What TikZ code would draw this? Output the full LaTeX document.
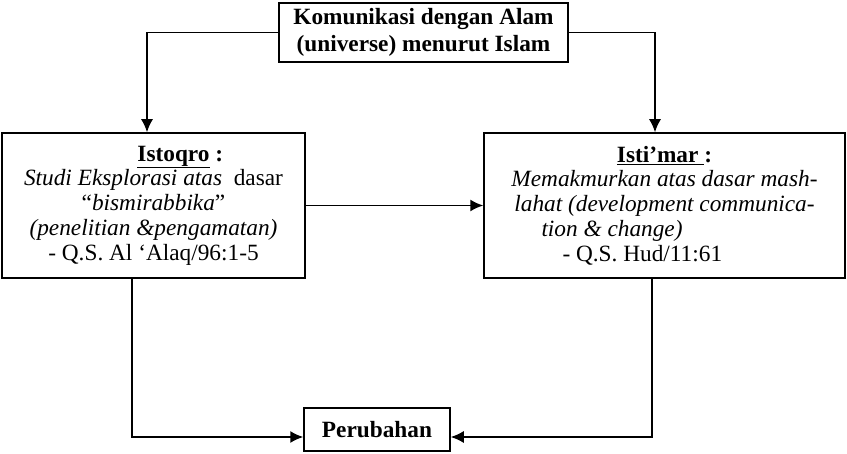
\documentclass[tikz,border=0pt]{standalone}
\usepackage{fontspec}
\setmainfont{Liberation Serif}
\usepackage{tikz}
\usetikzlibrary{arrows.meta}

\begin{document}
\begin{tikzpicture}[x=1pt, y=-1pt,
    every node/.style={font=\fontsize{23.3}{24.8}\selectfont},
    box/.style={draw, line width=1.5pt, inner sep=0pt, align=center},
    link/.style={line width=1.5pt, -{Latex[length=13pt, width=12pt]}}]
        \useasboundingbox (0,0) rectangle (847,454);

        % boxes
        \node[box, minimum width=289, minimum height=59, font=\fontsize{23.3}{26.5}\selectfont\bfseries] (alam) at (423.5,32.5) {Komunikasi dengan Alam\\(universe) menurut Islam};
        \node[box, minimum width=303, minimum height=145] (istoqro) at (153.5,205.5) {\makebox[280pt][l]{\hspace*{124pt}\textbf{\underline{Istoqro} :}}\\\textit{Studi Eksplorasi atas}\ \ dasar\\``\textit{bismirabbika}''\\\textit{(penelitian \&pengamatan)}\\- Q.S. Al `Alaq/96:1-5};
        \node[box, minimum width=361, minimum height=145] (istimar) at (664.5,205.5) {\textbf{\underline{Isti'mar }:}\\\textit{Memakmurkan atas dasar mash-}\\\textit{lahat (development communica-}\\\makebox[340pt][l]{\hspace*{47pt}\textit{tion \& change)}}\\\makebox[340pt][l]{\hspace*{68pt}- Q.S. Hud/11:61}};
        \node[box, minimum width=146, minimum height=43, font=\fontsize{23.3}{24.8}\selectfont\bfseries] (perubahan) at (377,429.5) {Perubahan};

        % arrows
        \draw[link] (alam.west) -| ([xshift=-6.5pt]istoqro.north);
        \draw[link] (alam.east) -| ([xshift=-9.5pt]istimar.north);
        \draw[link] (istoqro) -- (istimar);
        \draw[link] ([xshift=-21.5pt]istoqro.south) |- ([yshift=-7.5pt]perubahan.west);
        \draw[link] ([xshift=-12.5pt]istimar.south) |- ([yshift=-7.5pt]perubahan.east);
    \end{tikzpicture}
\end{document}
